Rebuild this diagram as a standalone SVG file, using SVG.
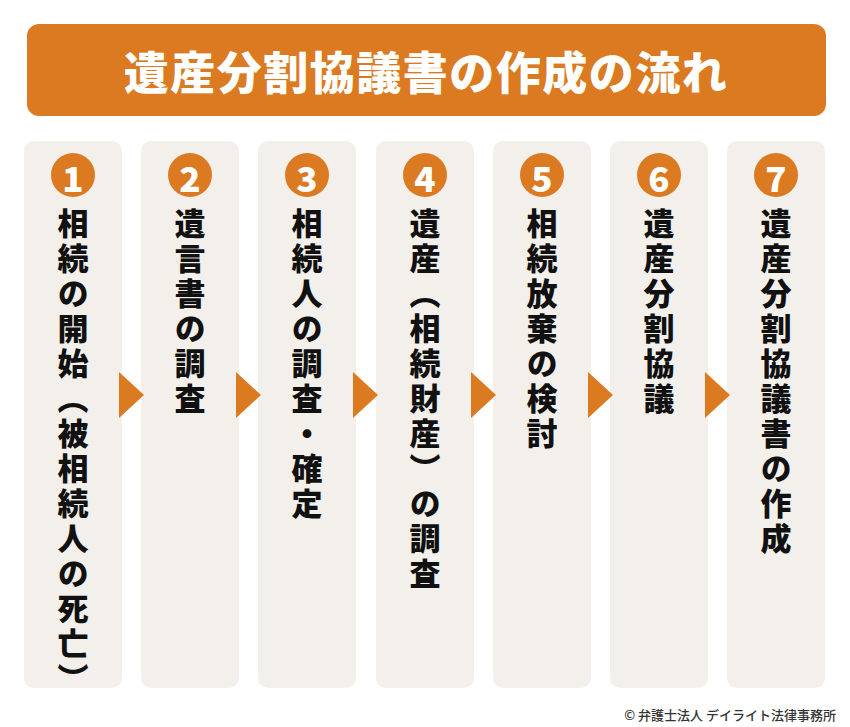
<svg xmlns="http://www.w3.org/2000/svg" width="850" height="727" viewBox="0 0 850 727">
  <defs>
    <style>
      .bar { fill: #db7a20; }
      .col { fill: #f3f0eb; }
      .badge { fill: #db7a20; }
      .num { fill: #ffffff; font-family: "Noto Sans CJK JP", "Noto Sans", sans-serif; font-weight: 900; font-size: 35px; text-anchor: middle; dominant-baseline: central; }
      .title { fill: #ffffff; font-family: "Noto Sans CJK JP", sans-serif; font-weight: 900; font-size: 45px; letter-spacing: 1.5px; text-anchor: middle; dominant-baseline: central; }
      .vt { fill: #111111; font-family: "Noto Sans CJK JP", sans-serif; font-weight: 900; font-size: 31px; letter-spacing: 4px; writing-mode: vertical-rl; text-anchor: start; }
      .arrow { fill: #db7a20; }
      .copy { fill: #333333; font-family: "Noto Sans CJK JP", sans-serif; font-weight: 500; font-size: 13px; text-anchor: end; dominant-baseline: central; }
    </style>
  </defs>
  <rect width="850" height="727" fill="#ffffff"/>

  <g id="title">
    <rect class="bar" x="27" y="24" width="799" height="92" rx="12"/>
    <text class="title" x="426" y="70">遺産分割協議書の作成の流れ</text>
  </g>

  <g id="step1">
    <rect class="col" x="24" y="141" width="98" height="547" rx="10"/>
    <circle class="badge" cx="73" cy="175" r="22"/>
    <text class="num" x="73" y="176">1</text>
    <text class="vt" x="73" y="208">相続の開始（被相続人の死亡）</text>
  </g>
  <g id="step2">
    <rect class="col" x="141" y="141" width="98" height="547" rx="10"/>
    <circle class="badge" cx="190" cy="175" r="22"/>
    <text class="num" x="190" y="176">2</text>
    <text class="vt" x="190" y="208">遺言書の調査</text>
  </g>
  <g id="step3">
    <rect class="col" x="258" y="141" width="98" height="547" rx="10"/>
    <circle class="badge" cx="307" cy="175" r="22"/>
    <text class="num" x="307" y="176">3</text>
    <text class="vt" x="307" y="208">相続人の調査・確定</text>
  </g>
  <g id="step4">
    <rect class="col" x="376" y="141" width="98" height="547" rx="10"/>
    <circle class="badge" cx="425" cy="175" r="22"/>
    <text class="num" x="425" y="176">4</text>
    <text class="vt" x="425" y="208">遺産（相続財産）の調査</text>
  </g>
  <g id="step5">
    <rect class="col" x="493" y="141" width="98" height="547" rx="10"/>
    <circle class="badge" cx="542" cy="175" r="22"/>
    <text class="num" x="542" y="176">5</text>
    <text class="vt" x="542" y="208">相続放棄の検討</text>
  </g>
  <g id="step6">
    <rect class="col" x="610" y="141" width="98" height="547" rx="10"/>
    <circle class="badge" cx="659" cy="175" r="22"/>
    <text class="num" x="659" y="176">6</text>
    <text class="vt" x="659" y="208">遺産分割協議</text>
  </g>
  <g id="step7">
    <rect class="col" x="727" y="141" width="98" height="547" rx="10"/>
    <circle class="badge" cx="776" cy="175" r="22"/>
    <text class="num" x="776" y="176">7</text>
    <text class="vt" x="776" y="208">遺産分割協議書の作成</text>
  </g>

  <g id="connectors">
    <polygon class="arrow" points="119,372 144,395 119,418"/>
    <polygon class="arrow" points="236,372 261,395 236,418"/>
    <polygon class="arrow" points="353,372 378,395 353,418"/>
    <polygon class="arrow" points="471,372 496,395 471,418"/>
    <polygon class="arrow" points="588,372 613,395 588,418"/>
    <polygon class="arrow" points="705,372 730,395 705,418"/>
  </g>

  <text class="copy" x="836" y="714">© 弁護士法人 デイライト法律事務所</text>
</svg>
